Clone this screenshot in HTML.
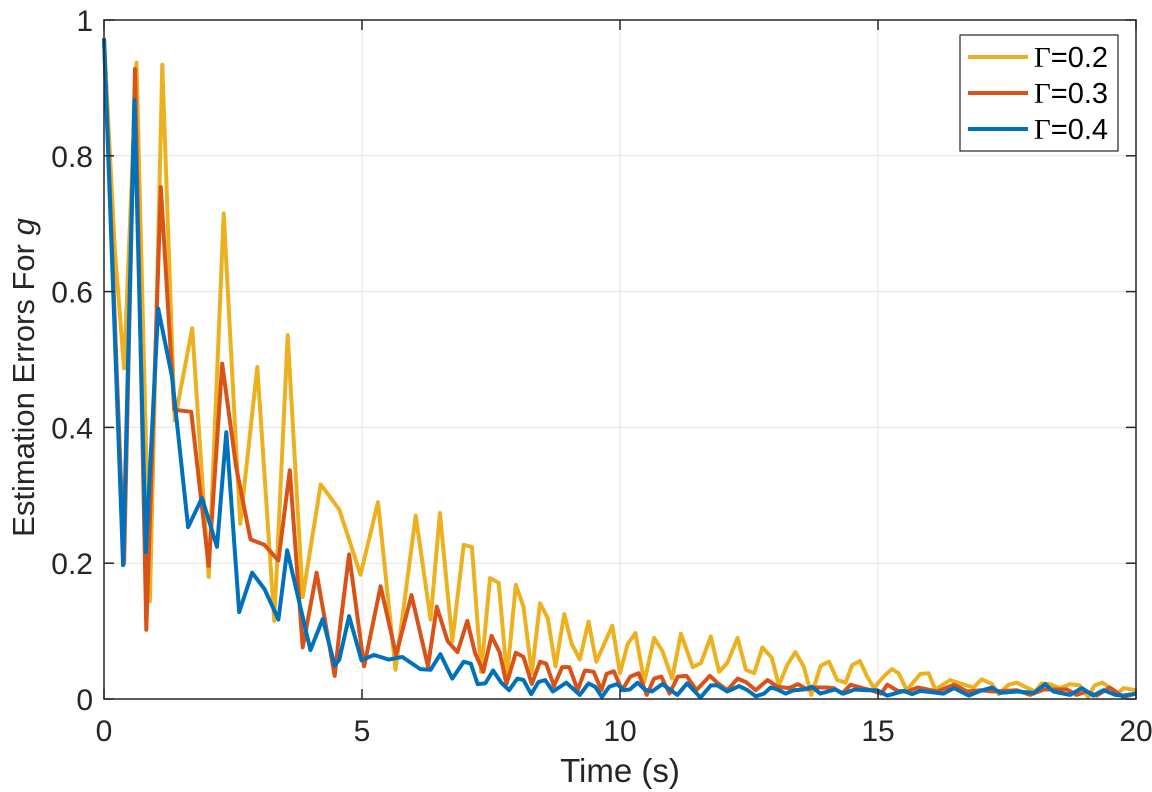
<!DOCTYPE html>
<html><head><meta charset="utf-8"><style>
html,body{margin:0;padding:0;background:#fff;}
svg{display:block;font-family:"Liberation Sans",Helvetica,Arial,sans-serif;}
</style></head><body>
<svg id="chart" width="1152" height="792" viewBox="0 0 1152 792"></svg>
<script>
const xTicks=[0,5,10,15,20];
const yTicks=[0,0.2,0.4,0.6,0.8,1];
const yTickLabels=["0","0.2","0.4","0.6","0.8","1"];
const seriesNames=["Γ=0.2","Γ=0.3","Γ=0.4"];
const seriesColors=["#EDB120","#D95319","#0072BD"];
const tY=[0,.21,.39,.63,.89,1.13,1.37,1.71,2.03,2.32,2.64,2.97,3.30,3.56,3.85,4.2,4.56,4.97,5.31,5.65,6.04,6.33,6.51,6.75,6.97,7.13,7.31,7.48,7.65,7.81,7.98,8.13,8.29,8.45,8.6,8.75,8.92,9.06,9.22,9.39,9.54,9.85,10.0,10.15,10.3,10.47,10.66,10.82,11.01,11.18,11.41,11.57,11.76,11.92,12.08,12.28,12.44,12.6,12.76,12.94,13.08,13.24,13.4,13.56,13.71,13.89,14.05,14.21,14.37,14.5,14.65,14.79,14.92,15.11,15.27,15.4,15.56,15.82,15.98,16.11,16.4,16.59,16.85,17.01,17.21,17.34,17.53,17.69,17.85,18.05,18.17,18.33,18.53,18.72,18.91,19.07,19.2,19.35,19.49,19.65,19.76,20];
const vY=[.973,.662,.487,.937,.144,.934,.41,.546,.18,.715,.258,.489,.115,.536,.15,.316,.279,.183,.29,.043,.27,.117,.274,.085,.227,.224,.04,.178,.171,.033,.168,.136,.038,.141,.119,.048,.125,.082,.058,.114,.055,.108,.038,.081,.097,.025,.09,.071,.03,.096,.047,.053,.092,.04,.053,.09,.043,.038,.076,.061,.02,.05,.069,.048,.006,.049,.055,.028,.024,.05,.056,.033,.016,.033,.044,.038,.013,.037,.038,.014,.028,.023,.017,.029,.022,.007,.021,.024,.018,.011,.023,.022,.016,.022,.02,.003,.02,.024,.017,.009,.016,.013];
const tR=[0,.39,.6,.82,1.1,1.36,1.69,2.03,2.29,2.56,2.84,3.11,3.38,3.6,3.85,4.12,4.47,4.56,4.75,5.04,5.36,5.66,5.96,6.28,6.45,6.66,6.85,7.04,7.19,7.35,7.51,7.67,7.8,7.98,8.13,8.29,8.45,8.57,8.72,8.88,9.02,9.18,9.32,9.49,9.64,9.74,9.88,10.04,10.2,10.36,10.52,10.66,10.8,10.96,11.12,11.29,11.48,11.74,11.9,12.08,12.28,12.44,12.63,12.86,13.05,13.28,13.45,13.63,13.79,14.01,14.14,14.3,14.47,14.66,14.86,15.06,15.18,15.38,15.57,15.77,15.96,16.15,16.47,16.73,16.99,17.24,17.44,17.69,17.95,18.21,18.46,18.66,18.85,19.04,19.24,19.49,19.75,20];
const vR=[.973,.2,.928,.102,.754,.426,.423,.196,.494,.342,.235,.227,.204,.337,.076,.186,.034,.097,.213,.048,.166,.065,.153,.048,.136,.085,.069,.115,.068,.04,.093,.068,.022,.068,.062,.022,.055,.052,.019,.047,.047,.013,.042,.04,.013,.037,.041,.013,.033,.038,.006,.03,.033,.008,.033,.034,.013,.034,.023,.013,.03,.025,.013,.028,.018,.016,.022,.014,.017,.017,.016,.008,.021,.017,.013,.008,.021,.012,.011,.017,.014,.011,.021,.011,.013,.011,.012,.013,.006,.014,.014,.014,.006,.011,.005,.017,.003,.008];
const tB=[0,.37,.59,.81,1.05,1.32,1.63,1.9,2.19,2.37,2.62,2.87,3.11,3.38,3.55,4.0,4.24,4.47,4.56,4.75,4.99,5.23,5.52,5.78,6.13,6.33,6.52,6.75,6.97,7.11,7.24,7.39,7.54,7.7,7.85,8.01,8.13,8.28,8.42,8.55,8.7,8.96,9.22,9.39,9.52,9.65,9.79,9.94,10.08,10.19,10.34,10.48,10.62,10.82,11.11,11.3,11.56,11.76,11.89,12.08,12.31,12.47,12.63,12.79,12.92,13.05,13.21,13.37,13.56,13.72,13.88,14.17,14.33,14.55,14.78,14.98,15.18,15.5,15.66,15.82,16.27,16.47,16.76,16.98,17.21,17.37,17.69,18.02,18.24,18.4,18.72,18.95,19.17,19.37,19.6,19.76,20];
const vB=[.973,.197,.882,.216,.575,.474,.253,.296,.224,.393,.128,.186,.162,.117,.219,.072,.118,.049,.058,.122,.057,.065,.058,.062,.044,.043,.066,.03,.055,.052,.022,.023,.042,.024,.013,.03,.028,.007,.025,.028,.011,.024,.006,.023,.018,.003,.018,.022,.013,.014,.024,.014,.011,.022,.006,.023,.002,.02,.02,.011,.019,.013,.004,.008,.017,.014,.008,.013,.014,.018,.008,.014,.008,.014,.013,.013,.005,.012,.007,.012,.008,.016,.005,.012,.017,.009,.011,.009,.022,.011,.006,.016,.005,.013,.006,.005,.008];
const seriesT=[tY,tR,tB], seriesV=[vY,vR,vB];

const L=104,R=1136,T=20,B=699;
const xS=t=>L+(t-0)/(20-0)*(R-L);
const yS=v=>B-(v-0)/(1-0)*(B-T);
const NS="http://www.w3.org/2000/svg";
const svg=document.getElementById('chart');
function mk(tag,attrs,parent){const e=document.createElementNS(NS,tag);for(const k in attrs)e.setAttribute(k,attrs[k]);(parent||svg).appendChild(e);return e;}

const bg=mk('rect',{x:L,y:T,width:R-L,height:B-T,fill:'#fff'});


xTicks.forEach(t=>{const g=mk('line',{x1:xS(t),x2:xS(t),y1:T,y2:B,stroke:'#e3e3e3','stroke-width':1});

});
yTicks.forEach(v=>{const g=mk('line',{x1:L,x2:R,y1:yS(v),y2:yS(v),stroke:'#e3e3e3','stroke-width':1});

});
seriesT.forEach((ts,i)=>{
 const d=ts.map((t,j)=>(j?'L':'M')+xS(t).toFixed(1)+','+yS(seriesV[i][j]).toFixed(1)).join(' ');
 const p=mk('path',{d:d,fill:'none',stroke:seriesColors[i],'stroke-width':4,'stroke-linejoin':'round'});
 
 
});
const box=mk('rect',{x:L,y:T,width:R-L,height:B-T,fill:'none',stroke:'#262626','stroke-width':1.5});


xTicks.forEach(t=>{
 const tk=mk('line',{x1:xS(t),x2:xS(t),y1:B,y2:B-10,stroke:'#262626','stroke-width':1.5});
 
 
 const tk2=mk('line',{x1:xS(t),x2:xS(t),y1:T,y2:T+10,stroke:'#262626','stroke-width':1.5});
 
 
 const lb=mk('text',{x:xS(t),y:741,'text-anchor':'middle','font-size':30,fill:'#262626'});
 lb.textContent=String(t);
 
 
});
yTicks.forEach((v,i)=>{
 const tk=mk('line',{x1:L,x2:L+10,y1:yS(v),y2:yS(v),stroke:'#262626','stroke-width':1.5});
 
 
 const tk2=mk('line',{x1:R,x2:R-10,y1:yS(v),y2:yS(v),stroke:'#262626','stroke-width':1.5});
 
 
 const lb=mk('text',{x:L-11,y:yS(v)+11,'text-anchor':'end','font-size':30,fill:'#262626'});
 lb.textContent=yTickLabels[i];
 
 
});
const xl=mk('text',{x:(L+R)/2,y:782,'text-anchor':'middle','font-size':33,fill:'#262626'});
xl.textContent='Time (s)';


const yl=mk('text',{x:0,y:0,'text-anchor':'middle','font-size':31,fill:'#262626',transform:'translate(34,'+((T+B)/2+18)+') rotate(-90)'});
yl.innerHTML='Estimation Errors For <tspan font-style="italic">g</tspan>';


const lg=mk('g',{});


const lr=mk('rect',{x:960,y:35,width:158,height:116,fill:'#fff',stroke:'#262626','stroke-width':1.2},lg);


seriesNames.forEach((n,i)=>{
 const y=57+i*36;
 const ln=mk('line',{x1:968,x2:1028,y1:y,y2:y,stroke:seriesColors[i],'stroke-width':4},lg);
 
 
 const tx=mk('text',{x:1034,y:y+10,'font-size':29,fill:'#000'},lg);
 tx.innerHTML='<tspan font-family="Liberation Serif, serif">Γ</tspan>='+n.split('=')[1];
 
 
});
</script>
</body></html>
